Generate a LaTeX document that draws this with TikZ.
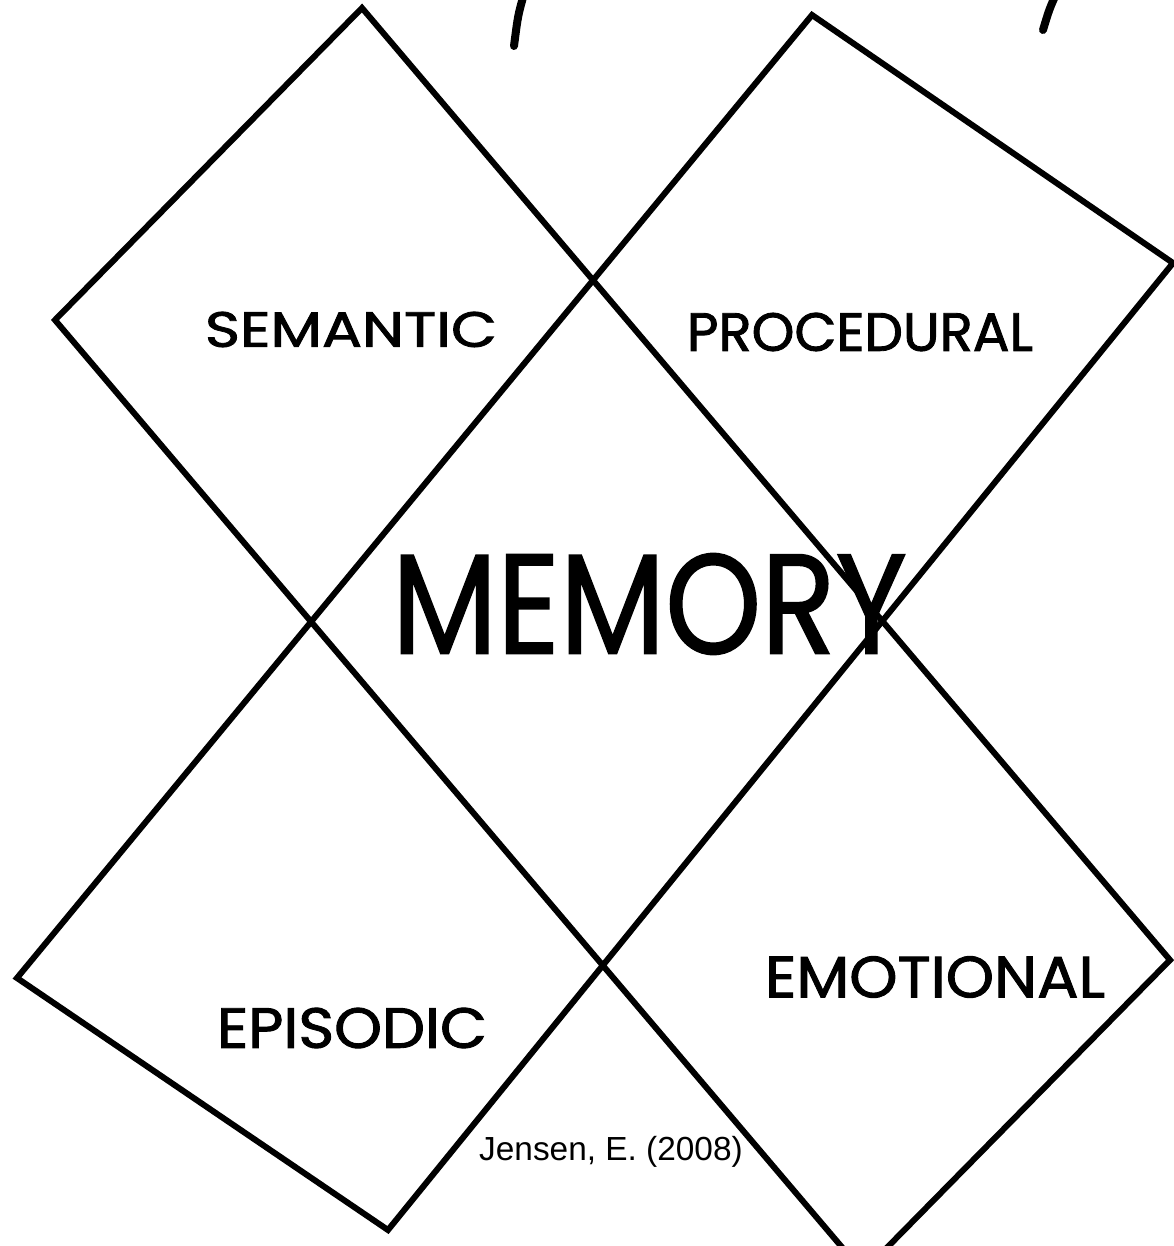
\documentclass[tikz,border=0pt]{standalone}
\usepackage{fontspec}
\usepackage{graphicx}
\newfontfamily\labelfont[FakeBold=1.6]{Poppins}
\newfontfamily\bigfont[FakeBold=1.2]{Poppins}
\newfontfamily\credfont{Liberation Sans}
\begin{document}
\begin{tikzpicture}[x=0.2mm,y=-0.2mm,
  frame/.style={draw=black, line width=1.2mm, line join=miter},
  stroke/.style={draw=black, line width=1.6mm, line cap=round},
  lbl/.style={inner sep=0pt, outer sep=0pt, text=black}]
\useasboundingbox (0,0) rectangle (1174,1246);
\fill[white] (0,0) rectangle (1174,1246);
\begin{scope}
  \clip (0,0) rectangle (1174,1246);
  % first long rectangle (top-left to bottom-right)
  \coordinate (a1) at (362,8);
  \coordinate (a2) at (55,320);
  \coordinate (a3) at (863,1272);
  \coordinate (a4) at (1170,960);
  % second long rectangle (top-right to bottom-left)
  \coordinate (b1) at (812,15);
  \coordinate (b2) at (1173,263);
  \coordinate (b3) at (388,1230);
  \coordinate (b4) at (17,978);
  \draw[frame] (a1) -- (a2) -- (a3) -- (a4) -- cycle;
  \draw[frame] (b1) -- (b2) -- (b3) -- (b4) -- cycle;
  % cut-off handwriting strokes at the top
  \coordinate (s1a) at (524,-6);
  \coordinate (s1b) at (514,46);
  \coordinate (s2a) at (1056,-6);
  \coordinate (s2b) at (1043,30);
  \draw[stroke] (s1a) .. controls (518,15) .. (s1b);
  \draw[stroke] (s2a) .. controls (1049,10) .. (s2b);
\end{scope}
\node[lbl] (semantic) at (351,329.5) {\resizebox{58.4mm}{7mm}{\labelfont SEMANTIC}};
\node[lbl] (procedural) at (860,332) {\resizebox{69.2mm}{7.6mm}{\labelfont PROCEDURAL}};
\node[lbl] (memory) at (649.5,604) {\resizebox{103mm}{20mm}{\bigfont MEMORY}};
\node[lbl] (episodic) at (352,1028) {\resizebox{54mm}{8mm}{\labelfont EPISODIC}};
\node[lbl] (emotional) at (935,977) {\resizebox{68mm}{8.2mm}{\labelfont EMOTIONAL}};
\node[lbl, font=\credfont\fontsize{19pt}{23pt}\selectfont] (credit) at (611,1152) {Jensen, E. (2008)};
\end{tikzpicture}
\end{document}
